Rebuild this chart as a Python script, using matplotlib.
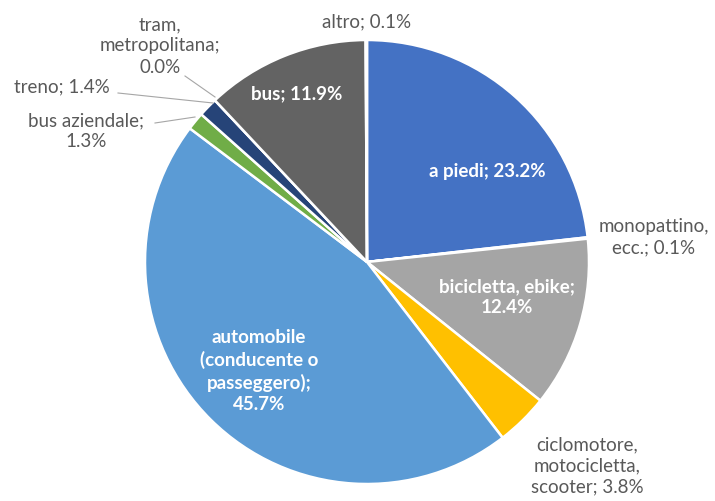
import matplotlib.pyplot as plt

# modal split data (clockwise from 12 o'clock)
categories = ["a piedi", "monopattino, ecc.", "bicicletta, ebike", "ciclomotore, motocicletta, scooter",
              "automobile (conducente o passeggero)", "bus aziendale", "treno", "tram, metropolitana",
              "bus", "altro"]
shares = [23.2, 0.1, 12.4, 3.8, 45.7, 1.3, 1.4, 0.0, 11.9, 0.1]
colors = ["#4472C4", "#ED7D31", "#A5A5A5", "#FFC000", "#5B9BD5", "#70AD47", "#264478",
          "#9E480E", "#636363", "#997300"]

label_texts = ["a piedi; 23.2%", "monopattino,\necc.; 0.1%", "bicicletta, ebike;\n12.4%",
               "ciclomotore,\nmotocicletta,\nscooter; 3.8%",
               "automobile\n(conducente o\npasseggero);\n45.7%", "bus aziendale;\n1.3%",
               "treno; 1.4%", "tram,\nmetropolitana;\n0.0%", "bus; 11.9%", "altro; 0.1%"]
# label centres in pixels (x from left, y from top)
label_px = [(487, 172), (654, 237), (507, 297), (587, 466), (259, 371), (86, 131),
            (62, 87), (160, 46), (297, 94), (367, 22)]
inside = [True, False, True, False, True, False, False, False, True, False]

W, H = 715, 501
cx, cy, R = 367, 262, 222

fig = plt.figure(figsize=(W / 100, H / 100), dpi=100)
ax = fig.add_axes([0, 0, 1, 1])
ax.pie(shares, colors=colors, startangle=90, counterclock=False, radius=1,
       wedgeprops=dict(edgecolor="white", linewidth=1.8))
ax.set_xlim(-cx / R, (W - cx) / R)
ax.set_ylim(-(H - cy) / R, cy / R)
ax.set_aspect("auto")
ax.axis("off")

for txt, (px, py), ins in zip(label_texts, label_px, inside):
    fig.text(px / W, 1 - py / H, txt, ha="center", va="center", fontsize=13.5,
             family="Lato", linespacing=1.3,
             color="white" if ins else "#595959",
             fontweight="bold" if ins else "normal")

# leader lines for the small slices
leaders = [((118, 93), (213, 103)), ((185, 76), (215, 97)), ((155, 123), (195, 117))]
for (x0, y0), (x1, y1) in leaders:
    fig.add_artist(plt.Line2D([x0 / W, x1 / W], [1 - y0 / H, 1 - y1 / H],
                              transform=fig.transFigure, color="#A6A6A6", lw=0.8))

fig.savefig("out.png", dpi=100)
